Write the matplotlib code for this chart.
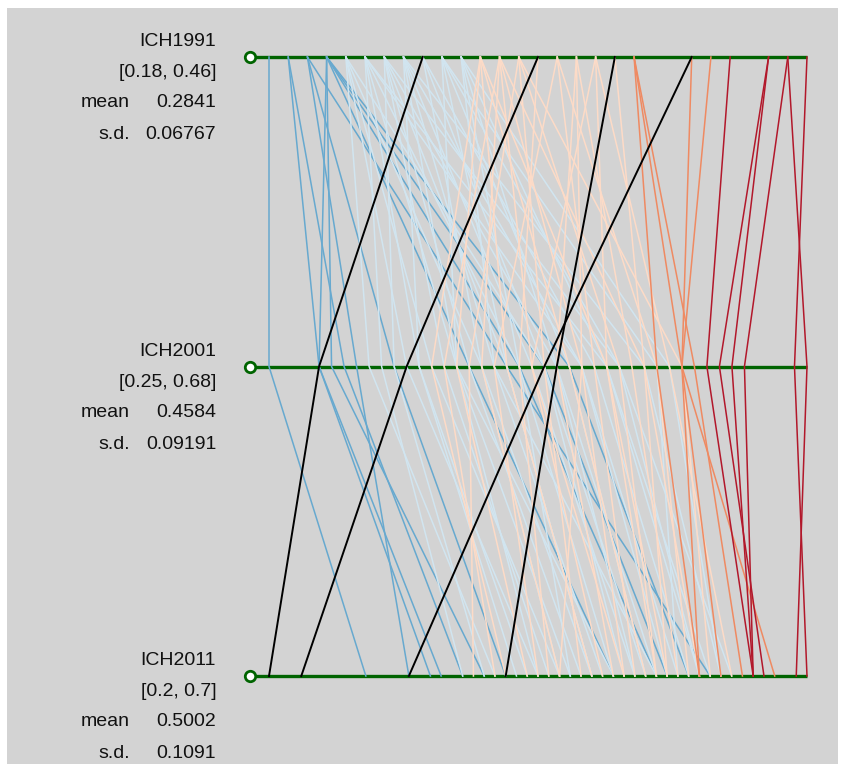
import matplotlib.pyplot as plt
from matplotlib.patches import Rectangle

# axis definitions (top to bottom)
axis_names = ['ICH1991', 'ICH2001', 'ICH2011']
axis_lo = [0.18, 0.25, 0.2]
axis_hi = [0.46, 0.68, 0.7]
axis_ranges = ['[0.18, 0.46]', '[0.25, 0.68]', '[0.2, 0.7]']
axis_means = ['0.2841', '0.4584', '0.5002']
axis_sds = ['0.06767', '0.09191', '0.1091']

# one entry per case
ich1991 = [
    0.18, 0.19, 0.19, 0.20, 0.20, 0.21, 0.21, 0.21, 0.21, 0.21, 0.21, 0.20,
    0.22, 0.22, 0.22, 0.22, 0.22,
    0.23, 0.23, 0.23, 0.23, 0.23, 0.23,
    0.24, 0.24, 0.24, 0.24, 0.24, 0.24,
    0.25, 0.25, 0.25, 0.25, 0.25, 0.25,
    0.26, 0.26, 0.26,
    0.27, 0.27, 0.27, 0.27, 0.27,
    0.28, 0.28, 0.28, 0.28, 0.28,
    0.29, 0.29, 0.29, 0.29, 0.29,
    0.30, 0.30, 0.30, 0.30, 0.30,
    0.31, 0.31, 0.31, 0.31,
    0.32,
    0.33, 0.33, 0.33,
    0.34, 0.34, 0.34,
    0.35, 0.35, 0.35,
    0.36,
    0.37, 0.37, 0.37, 0.40, 0.41,
    0.42, 0.44, 0.44, 0.45, 0.45, 0.46,
    0.26, 0.32, 0.40, 0.36,
]
ich2001 = [
    0.25, 0.29, 0.31, 0.32, 0.35, 0.29, 0.30, 0.41, 0.45, 0.47, 0.49, 0.44,
    0.33, 0.36, 0.42, 0.47, 0.38,
    0.34, 0.40, 0.45, 0.50, 0.37, 0.52,
    0.35, 0.41, 0.44, 0.48, 0.53, 0.39,
    0.37, 0.43, 0.46, 0.50, 0.55, 0.40,
    0.42, 0.47, 0.51,
    0.44, 0.49, 0.53, 0.40, 0.56,
    0.45, 0.48, 0.52, 0.57, 0.43,
    0.40, 0.44, 0.49, 0.38, 0.52,
    0.39, 0.46, 0.50, 0.42, 0.55,
    0.41, 0.47, 0.53, 0.58,
    0.45,
    0.43, 0.51, 0.56,
    0.48, 0.54, 0.50,
    0.52, 0.57, 0.46,
    0.55,
    0.58, 0.59, 0.56, 0.58, 0.58,
    0.60, 0.62, 0.61, 0.63, 0.68, 0.67,
    0.29, 0.36, 0.47, 0.48,
]
ich2011 = [
    0.29, 0.35, 0.38, 0.33, 0.42, 0.36, 0.40, 0.52, 0.56, 0.57, 0.59, 0.61,
    0.41, 0.45, 0.50, 0.55, 0.47,
    0.38, 0.48, 0.52, 0.58, 0.44, 0.61,
    0.40, 0.49, 0.50, 0.56, 0.60, 0.46,
    0.43, 0.51, 0.54, 0.57, 0.62, 0.45,
    0.47, 0.53, 0.59,
    0.50, 0.55, 0.63, 0.52, 0.58,
    0.48, 0.54, 0.60, 0.62, 0.56,
    0.44, 0.50, 0.55, 0.42, 0.57,
    0.41, 0.51, 0.53, 0.47, 0.60,
    0.39, 0.49, 0.56, 0.61,
    0.46,
    0.45, 0.54, 0.59,
    0.52, 0.58, 0.47,
    0.56, 0.63, 0.53,
    0.57,
    0.62, 0.64, 0.60, 0.67, 0.60,
    0.65, 0.65, 0.66, 0.65, 0.69, 0.70,
    0.20, 0.23, 0.33, 0.42,
]
highlighted = [84, 85, 86, 87]

# colour classes by ICH1991 value
class_edges = [0.215, 0.285, 0.365, 0.415]
palette = ['#67a9cf', '#d1e5f0', '#fddbc7', '#ef8a62', '#b2182b']
class_z = [2, 3, 3, 4, 4]

fig = plt.figure(figsize=(8.43, 7.64), dpi=100, facecolor='white')
fig.patches.append(Rectangle((7 / 843, 0), 831 / 843, 756 / 764,
                             transform=fig.transFigure, facecolor='#d3d3d3',
                             edgecolor='none', zorder=-10))

# axes: x = normalised value, y = axis index (0 at top)
ax = fig.add_axes([269 / 843, 88 / 764, 538 / 843, 619 / 764])
ax.set_xlim(0, 1)
ax.set_ylim(2, 0)
ax.axis('off')

green = '#006400'
handle_x = -0.035
for i, name in enumerate(axis_names):
    ax.plot([handle_x, 1], [i, i], color=green, lw=2.4, zorder=1,
            clip_on=False, solid_capstyle='butt')
    ax.plot([handle_x], [i], marker='o', ms=7.5, mfc='white', mec=green,
            mew=2, zorder=7, clip_on=False)
    tk = dict(textcoords='offset points', ha='right', va='center',
              fontsize=14, color='#111111', annotation_clip=False,
              family=['Liberation Sans', 'DejaVu Sans'])
    ax.annotate(name, xy=(0, i), xytext=(-38, 11), **tk)
    ax.annotate(axis_ranges[i], xy=(0, i), xytext=(-38, -11.5), **tk)
    ax.annotate('mean', xy=(0, i), xytext=(-100, -33), **tk)
    ax.annotate(axis_means[i], xy=(0, i), xytext=(-38, -33), **tk)
    ax.annotate('s.d.', xy=(0, i), xytext=(-100, -56), **tk)
    ax.annotate(axis_sds[i], xy=(0, i), xytext=(-38, -56), **tk)

cols = [ich1991, ich2001, ich2011]
for k in range(len(ich1991)):
    xs = [(cols[j][k] - axis_lo[j]) / (axis_hi[j] - axis_lo[j]) for j in range(3)]
    if k in highlighted:
        ax.plot(xs, [0, 1, 2], color='black', lw=1.4, zorder=6, clip_on=False)
        continue
    c = sum(ich1991[k] > e for e in class_edges)
    ax.plot(xs, [0, 1, 2], color=palette[c], lw=1.1, zorder=class_z[c],
            clip_on=False)

fig.savefig('out.png', dpi=100, facecolor=fig.get_facecolor())
